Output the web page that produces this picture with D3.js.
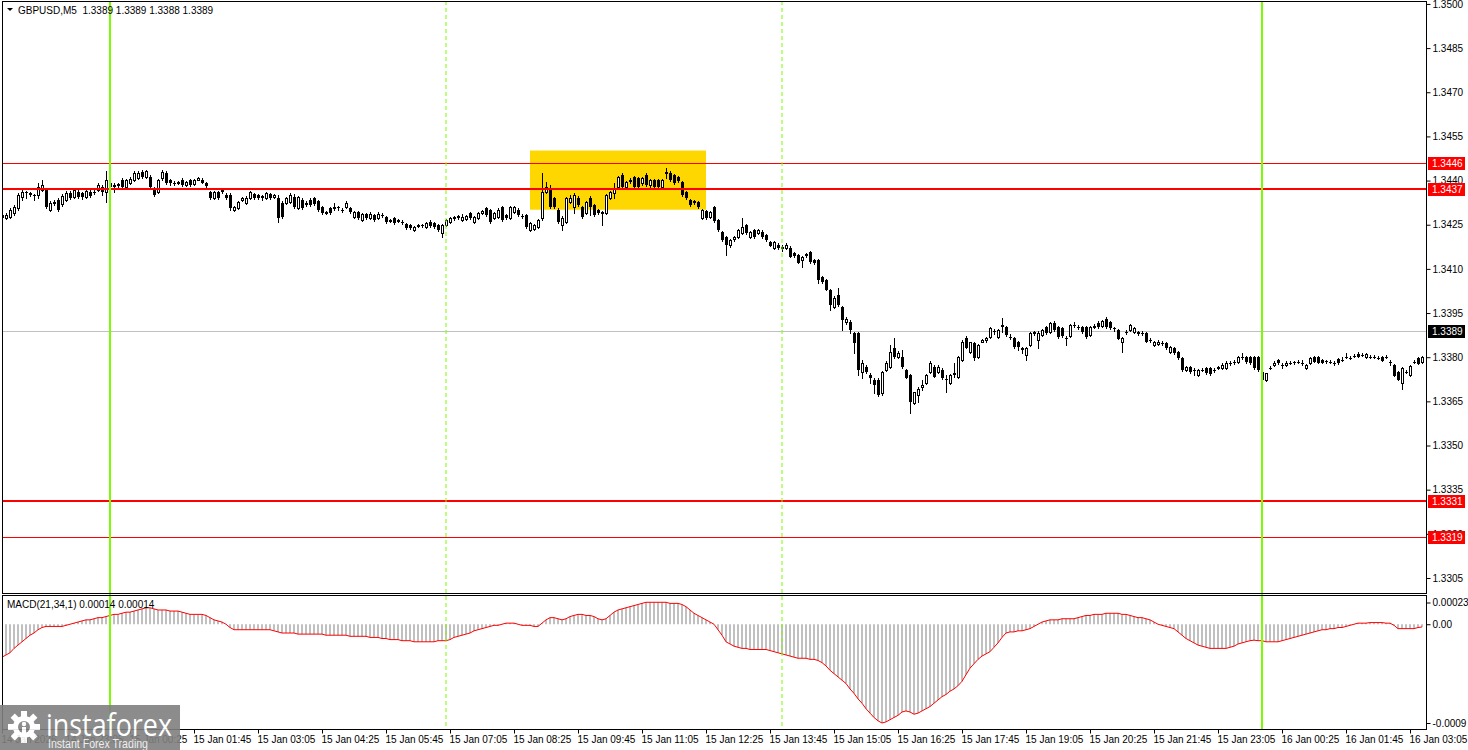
<!DOCTYPE html>
<html>
<head>
<meta charset="utf-8">
<script src="https://cdn.jsdelivr.net/npm/d3@7"></script>
<style>
body { margin: 0; background: #fff; }
svg text { font-family: "Liberation Sans", Arial, sans-serif; font-size: 10px; fill: #000; }
</style>
</head>
<body>
<div id="chart-area"></div>
<script>

// GBPUSD M5 bars, 14 Jan 21:45 -> 16 Jan 03:20
var firstBar = "2026-01-14 21:45";

var opens = [
1.34283,1.34272,1.34276,1.34289,1.34306,1.34344,1.34361,1.34357,1.34351,1.34351,
1.34368,1.34368,1.34300,1.34323,1.34334,1.34320,1.34334,1.34357,1.34344,1.34361,
1.34357,1.34344,1.34361,1.34361,1.34368,1.34378,1.34361,1.34391,1.34385,1.34385,
1.34402,1.34378,1.34391,1.34402,1.34408,1.34429,1.34412,1.34412,1.34374,1.34361,
1.34408,1.34425,1.34402,1.34391,1.34391,1.34402,1.34385,1.34402,1.34388,1.34402,
1.34402,1.34391,1.34361,1.34340,1.34361,1.34364,1.34351,1.34351,1.34300,1.34306,
1.34334,1.34323,1.34340,1.34354,1.34351,1.34347,1.34340,1.34354,1.34344,1.34340,
1.34323,1.34323,1.34327,1.34344,1.34306,1.34334,1.34320,1.34334,1.34340,1.34330,
1.34310,1.34289,1.34306,1.34306,1.34310,1.34300,1.34310,1.34306,1.34276,1.34293,
1.34266,1.34286,1.34272,1.34283,1.34272,1.34283,1.34276,1.34262,1.34272,1.34262,
1.34259,1.34252,1.34249,1.34232,1.34245,1.34249,1.34242,1.34259,1.34255,1.34249,
1.34221,1.34249,1.34259,1.34272,1.34276,1.34266,1.34269,1.34289,1.34259,1.34272,
1.34289,1.34306,1.34300,1.34272,1.34276,1.34310,1.34283,1.34272,1.34293,1.34300,
1.34279,1.34283,1.34232,1.34235,1.34242,1.34272,1.34361,1.34368,1.34340,1.34300,
1.34249,1.34259,1.34327,1.34310,1.34340,1.34310,1.34289,1.34340,1.34317,1.34300,
1.34289,1.34289,1.34340,1.34357,1.34378,1.34419,1.34378,1.34398,1.34412,1.34408,
1.34391,1.34419,1.34385,1.34402,1.34402,1.34378,1.34425,1.34425,1.34419,1.34412,
1.34395,1.34361,1.34334,1.34330,1.34327,1.34272,1.34296,1.34276,1.34310,1.34266,
1.34225,1.34208,1.34181,1.34201,1.34208,1.34221,1.34249,1.34208,1.34232,1.34221,
1.34225,1.34215,1.34191,1.34170,1.34181,1.34170,1.34170,1.34170,1.34153,1.34147,
1.34130,1.34147,1.34157,1.34130,1.34130,1.34072,1.34062,1.34028,1.33970,1.34011,
1.33970,1.33919,1.33919,1.33881,1.33881,1.33749,1.33766,1.33739,1.33722,1.33722,
1.33677,1.33756,1.33766,1.33830,1.33800,1.33800,1.33756,1.33739,1.33643,1.33671,
1.33698,1.33711,1.33749,1.33766,1.33749,1.33756,1.33725,1.33711,1.33742,1.33732,
1.33790,1.33864,1.33817,1.33847,1.33800,1.33851,1.33858,1.33868,1.33888,1.33868,
1.33905,1.33902,1.33868,1.33864,1.33851,1.33830,1.33807,1.33841,1.33881,1.33858,
1.33875,1.33902,1.33885,1.33915,1.33902,1.33898,1.33864,1.33871,1.33909,1.33902,
1.33902,1.33902,1.33875,1.33902,1.33915,1.33905,1.33930,1.33919,1.33898,1.33892,
1.33851,1.33885,1.33892,1.33885,1.33881,1.33881,1.33881,1.33858,1.33841,1.33844,
1.33847,1.33847,1.33817,1.33830,1.33817,1.33796,1.33756,1.33766,1.33756,1.33739,
1.33756,1.33762,1.33762,1.33756,1.33762,1.33762,1.33762,1.33779,1.33783,1.33783,
1.33800,1.33800,1.33800,1.33800,1.33800,1.33749,1.33722,1.33762,1.33773,1.33790,
1.33773,1.33773,1.33779,1.33783,1.33783,1.33779,1.33762,1.33779,1.33800,1.33800,
1.33790,1.33786,1.33783,1.33779,1.33793,1.33790,1.33800,1.33796,1.33803,1.33810,
1.33807,1.33800,1.33800,1.33800,1.33796,1.33800,1.33800,1.33783,1.33773,1.33749,
1.33711,1.33749,1.33739,1.33783,1.33796,1.33783
];

var highs = [
1.34289,1.34289,1.34306,1.34317,1.34357,1.34368,1.34364,1.34361,1.34354,1.34391,
1.34402,1.34374,1.34330,1.34334,1.34340,1.34354,1.34364,1.34364,1.34374,1.34368,
1.34361,1.34368,1.34368,1.34368,1.34391,1.34385,1.34432,1.34398,1.34391,1.34391,
1.34408,1.34405,1.34412,1.34432,1.34432,1.34436,1.34436,1.34419,1.34378,1.34405,
1.34436,1.34432,1.34405,1.34398,1.34398,1.34408,1.34398,1.34405,1.34405,1.34412,
1.34408,1.34395,1.34364,1.34364,1.34364,1.34374,1.34357,1.34357,1.34313,1.34330,
1.34344,1.34347,1.34364,1.34357,1.34354,1.34351,1.34361,1.34357,1.34354,1.34351,
1.34330,1.34344,1.34357,1.34354,1.34347,1.34340,1.34330,1.34340,1.34344,1.34334,
1.34313,1.34296,1.34310,1.34323,1.34313,1.34306,1.34330,1.34310,1.34296,1.34296,
1.34289,1.34289,1.34293,1.34286,1.34293,1.34289,1.34279,1.34269,1.34276,1.34269,
1.34266,1.34255,1.34252,1.34245,1.34252,1.34252,1.34259,1.34266,1.34259,1.34252,
1.34252,1.34269,1.34276,1.34279,1.34283,1.34286,1.34283,1.34293,1.34279,1.34293,
1.34300,1.34310,1.34303,1.34293,1.34306,1.34313,1.34286,1.34313,1.34313,1.34306,
1.34286,1.34286,1.34259,1.34252,1.34269,1.34425,1.34395,1.34385,1.34344,1.34306,
1.34279,1.34344,1.34351,1.34357,1.34347,1.34313,1.34330,1.34347,1.34320,1.34303,
1.34296,1.34354,1.34364,1.34391,1.34415,1.34425,1.34398,1.34408,1.34415,1.34412,
1.34412,1.34425,1.34405,1.34405,1.34405,1.34405,1.34442,1.34432,1.34422,1.34415,
1.34398,1.34364,1.34337,1.34334,1.34330,1.34303,1.34300,1.34296,1.34313,1.34269,
1.34228,1.34211,1.34201,1.34211,1.34235,1.34272,1.34252,1.34228,1.34235,1.34235,
1.34232,1.34218,1.34195,1.34195,1.34187,1.34181,1.34187,1.34177,1.34157,1.34150,
1.34143,1.34153,1.34160,1.34133,1.34133,1.34075,1.34065,1.34031,1.34007,1.34034,
1.33974,1.33936,1.33926,1.33885,1.33885,1.33790,1.33773,1.33745,1.33728,1.33728,
1.33752,1.33786,1.33841,1.33864,1.33820,1.33824,1.33759,1.33742,1.33681,1.33698,
1.33722,1.33742,1.33786,1.33773,1.33773,1.33762,1.33739,1.33742,1.33779,1.33803,
1.33858,1.33871,1.33851,1.33851,1.33844,1.33861,1.33868,1.33902,1.33895,1.33895,
1.33933,1.33905,1.33878,1.33868,1.33854,1.33834,1.33834,1.33885,1.33888,1.33888,
1.33895,1.33905,1.33919,1.33922,1.33905,1.33902,1.33871,1.33912,1.33919,1.33909,
1.33905,1.33905,1.33905,1.33912,1.33922,1.33926,1.33936,1.33922,1.33902,1.33895,
1.33868,1.33892,1.33912,1.33902,1.33888,1.33888,1.33885,1.33864,1.33855,1.33858,
1.33855,1.33851,1.33837,1.33834,1.33820,1.33800,1.33769,1.33769,1.33762,1.33759,
1.33762,1.33766,1.33766,1.33762,1.33769,1.33779,1.33786,1.33786,1.33790,1.33803,
1.33813,1.33803,1.33803,1.33803,1.33803,1.33752,1.33745,1.33769,1.33786,1.33793,
1.33779,1.33786,1.33786,1.33786,1.33790,1.33790,1.33776,1.33800,1.33803,1.33803,
1.33793,1.33790,1.33790,1.33786,1.33796,1.33800,1.33813,1.33803,1.33810,1.33817,
1.33813,1.33813,1.33807,1.33807,1.33803,1.33803,1.33807,1.33790,1.33776,1.33752,
1.33766,1.33756,1.33773,1.33790,1.33800,1.33803
];

var lows = [
1.34266,1.34269,1.34272,1.34283,1.34300,1.34334,1.34340,1.34347,1.34334,1.34340,
1.34364,1.34306,1.34296,1.34317,1.34296,1.34313,1.34330,1.34337,1.34340,1.34340,
1.34337,1.34340,1.34344,1.34354,1.34364,1.34351,1.34327,1.34334,1.34361,1.34378,
1.34374,1.34374,1.34388,1.34398,1.34405,1.34408,1.34408,1.34374,1.34347,1.34357,
1.34402,1.34388,1.34385,1.34385,1.34388,1.34381,1.34381,1.34381,1.34385,1.34402,
1.34391,1.34374,1.34337,1.34337,1.34337,1.34357,1.34337,1.34300,1.34296,1.34303,
1.34330,1.34320,1.34337,1.34337,1.34337,1.34334,1.34337,1.34337,1.34340,1.34259,
1.34272,1.34320,1.34323,1.34306,1.34303,1.34303,1.34313,1.34313,1.34317,1.34296,
1.34286,1.34286,1.34286,1.34300,1.34300,1.34293,1.34306,1.34289,1.34272,1.34269,
1.34262,1.34269,1.34269,1.34262,1.34269,1.34276,1.34255,1.34259,1.34252,1.34259,
1.34252,1.34235,1.34235,1.34228,1.34242,1.34242,1.34238,1.34242,1.34238,1.34228,
1.34208,1.34245,1.34255,1.34266,1.34269,1.34262,1.34266,1.34269,1.34255,1.34269,
1.34286,1.34279,1.34255,1.34269,1.34272,1.34262,1.34269,1.34269,1.34289,1.34279,
1.34272,1.34238,1.34228,1.34232,1.34238,1.34266,1.34357,1.34306,1.34306,1.34255,
1.34232,1.34255,1.34323,1.34289,1.34313,1.34272,1.34286,1.34283,1.34279,1.34286,
1.34249,1.34286,1.34337,1.34340,1.34374,1.34374,1.34374,1.34391,1.34374,1.34374,
1.34385,1.34381,1.34374,1.34374,1.34374,1.34374,1.34408,1.34398,1.34388,1.34395,
1.34347,1.34337,1.34313,1.34320,1.34306,1.34269,1.34269,1.34272,1.34259,1.34228,
1.34195,1.34147,1.34174,1.34195,1.34204,1.34218,1.34218,1.34204,1.34204,1.34218,
1.34204,1.34195,1.34177,1.34167,1.34167,1.34160,1.34167,1.34140,1.34140,1.34119,
1.34106,1.34140,1.34119,1.34116,1.34052,1.34052,1.34028,1.33960,1.33967,1.33974,
1.33892,1.33912,1.33881,1.33813,1.33739,1.33728,1.33745,1.33711,1.33677,1.33667,
1.33671,1.33752,1.33762,1.33796,1.33796,1.33762,1.33728,1.33609,1.33640,1.33647,
1.33688,1.33708,1.33745,1.33732,1.33745,1.33725,1.33681,1.33708,1.33732,1.33728,
1.33786,1.33830,1.33813,1.33790,1.33796,1.33851,1.33851,1.33864,1.33878,1.33864,
1.33885,1.33871,1.33861,1.33830,1.33824,1.33813,1.33790,1.33837,1.33875,1.33830,
1.33871,1.33878,1.33881,1.33888,1.33864,1.33868,1.33841,1.33868,1.33902,1.33895,
1.33881,1.33864,1.33871,1.33898,1.33898,1.33902,1.33898,1.33895,1.33888,1.33861,
1.33817,1.33878,1.33888,1.33881,1.33875,1.33875,1.33851,1.33851,1.33837,1.33841,
1.33841,1.33827,1.33813,1.33810,1.33793,1.33752,1.33752,1.33745,1.33739,1.33735,
1.33752,1.33742,1.33739,1.33749,1.33759,1.33759,1.33759,1.33773,1.33776,1.33779,
1.33793,1.33779,1.33776,1.33759,1.33752,1.33722,1.33718,1.33759,1.33769,1.33776,
1.33762,1.33769,1.33776,1.33776,1.33779,1.33773,1.33759,1.33776,1.33783,1.33779,
1.33779,1.33779,1.33779,1.33773,1.33776,1.33786,1.33796,1.33793,1.33800,1.33800,
1.33803,1.33796,1.33796,1.33796,1.33793,1.33786,1.33796,1.33773,1.33735,1.33722,
1.33691,1.33745,1.33735,1.33779,1.33776,1.33779
];

var closes = [
1.34272,1.34283,1.34300,1.34310,1.34351,1.34361,1.34357,1.34351,1.34347,1.34378,
1.34385,1.34310,1.34323,1.34327,1.34300,1.34347,1.34357,1.34340,1.34368,1.34344,
1.34344,1.34364,1.34347,1.34361,1.34385,1.34361,1.34402,1.34378,1.34378,1.34388,
1.34378,1.34402,1.34405,1.34425,1.34425,1.34412,1.34432,1.34378,1.34351,1.34402,
1.34429,1.34391,1.34391,1.34391,1.34395,1.34385,1.34395,1.34385,1.34402,1.34408,
1.34391,1.34381,1.34340,1.34361,1.34340,1.34368,1.34340,1.34306,1.34310,1.34327,
1.34340,1.34340,1.34361,1.34340,1.34340,1.34340,1.34357,1.34340,1.34351,1.34272,
1.34276,1.34340,1.34351,1.34310,1.34344,1.34306,1.34323,1.34317,1.34320,1.34300,
1.34289,1.34293,1.34289,1.34310,1.34306,1.34300,1.34323,1.34293,1.34293,1.34272,
1.34286,1.34272,1.34286,1.34266,1.34286,1.34283,1.34259,1.34266,1.34255,1.34266,
1.34259,1.34238,1.34238,1.34242,1.34249,1.34245,1.34255,1.34245,1.34242,1.34232,
1.34249,1.34266,1.34272,1.34276,1.34279,1.34276,1.34279,1.34272,1.34276,1.34289,
1.34296,1.34283,1.34259,1.34289,1.34300,1.34266,1.34272,1.34310,1.34310,1.34283,
1.34276,1.34242,1.34255,1.34249,1.34266,1.34361,1.34378,1.34310,1.34310,1.34259,
1.34272,1.34340,1.34340,1.34351,1.34317,1.34276,1.34327,1.34310,1.34283,1.34289,
1.34293,1.34351,1.34361,1.34374,1.34412,1.34378,1.34395,1.34402,1.34378,1.34378,
1.34408,1.34385,1.34402,1.34378,1.34378,1.34402,1.34429,1.34402,1.34391,1.34398,
1.34351,1.34340,1.34317,1.34323,1.34310,1.34300,1.34272,1.34293,1.34262,1.34232,
1.34198,1.34181,1.34198,1.34208,1.34232,1.34242,1.34221,1.34225,1.34208,1.34232,
1.34208,1.34198,1.34177,1.34191,1.34170,1.34174,1.34181,1.34140,1.34143,1.34119,
1.34140,1.34150,1.34123,1.34119,1.34062,1.34055,1.34028,1.33977,1.34000,1.33977,
1.33926,1.33930,1.33892,1.33847,1.33756,1.33779,1.33749,1.33728,1.33705,1.33671,
1.33749,1.33779,1.33817,1.33800,1.33813,1.33766,1.33728,1.33647,1.33681,1.33691,
1.33705,1.33739,1.33779,1.33732,1.33766,1.33728,1.33722,1.33739,1.33745,1.33800,
1.33851,1.33830,1.33851,1.33796,1.33841,1.33858,1.33864,1.33898,1.33885,1.33892,
1.33909,1.33875,1.33868,1.33834,1.33834,1.33824,1.33830,1.33881,1.33885,1.33881,
1.33892,1.33881,1.33915,1.33892,1.33868,1.33871,1.33864,1.33909,1.33909,1.33902,
1.33885,1.33868,1.33902,1.33905,1.33902,1.33922,1.33902,1.33898,1.33895,1.33861,
1.33864,1.33885,1.33909,1.33898,1.33885,1.33881,1.33851,1.33858,1.33851,1.33851,
1.33847,1.33830,1.33834,1.33813,1.33796,1.33756,1.33766,1.33749,1.33756,1.33756,
1.33756,1.33745,1.33742,1.33756,1.33766,1.33773,1.33779,1.33779,1.33783,1.33800,
1.33800,1.33783,1.33779,1.33762,1.33756,1.33722,1.33745,1.33762,1.33779,1.33779,
1.33773,1.33779,1.33779,1.33779,1.33783,1.33776,1.33773,1.33796,1.33783,1.33779,
1.33779,1.33786,1.33783,1.33779,1.33779,1.33790,1.33800,1.33796,1.33803,1.33800,
1.33807,1.33810,1.33800,1.33800,1.33796,1.33786,1.33800,1.33783,1.33735,1.33722,
1.33762,1.33749,1.33769,1.33783,1.33776,1.33800
];

// MACD(21,34,1) main values per bar (signal line is the same with period 1)
var macd = [
-0.00030,-0.00028,-0.00026,-0.00022,-0.00019,-0.00016,-0.00013,-0.00010,-0.00008,-0.00005,
-0.00003,-0.00002,-0.00002,-0.00002,-0.00002,-0.00002,-0.00001,0.00000,0.00001,0.00002,
0.00003,0.00004,0.00004,0.00005,0.00006,0.00006,0.00007,0.00008,0.00009,0.00009,
0.00010,0.00011,0.00011,0.00012,0.00013,0.00014,0.00015,0.00015,0.00014,0.00013,
0.00013,0.00013,0.00012,0.00012,0.00012,0.00011,0.00010,0.00009,0.00009,0.00009,
0.00009,0.00008,0.00006,0.00004,0.00003,0.00002,0.00000,-0.00003,-0.00005,-0.00005,
-0.00005,-0.00005,-0.00005,-0.00005,-0.00005,-0.00005,-0.00005,-0.00005,-0.00006,-0.00007,
-0.00008,-0.00008,-0.00008,-0.00008,-0.00009,-0.00009,-0.00009,-0.00009,-0.00009,-0.00009,
-0.00009,-0.00010,-0.00010,-0.00010,-0.00010,-0.00010,-0.00010,-0.00011,-0.00011,-0.00011,
-0.00011,-0.00011,-0.00012,-0.00012,-0.00012,-0.00013,-0.00013,-0.00014,-0.00014,-0.00014,
-0.00015,-0.00015,-0.00015,-0.00016,-0.00016,-0.00016,-0.00016,-0.00016,-0.00016,-0.00015,
-0.00015,-0.00015,-0.00014,-0.00012,-0.00011,-0.00010,-0.00009,-0.00008,-0.00006,-0.00005,
-0.00004,-0.00003,-0.00002,-0.00001,-0.00001,0.00000,0.00001,0.00001,0.00001,0.00000,
-0.00001,-0.00001,-0.00001,-0.00002,-0.00002,0.00001,0.00004,0.00006,0.00006,0.00005,
0.00004,0.00005,0.00007,0.00008,0.00009,0.00009,0.00008,0.00008,0.00007,0.00005,
0.00004,0.00005,0.00008,0.00011,0.00013,0.00014,0.00015,0.00016,0.00017,0.00018,
0.00019,0.00020,0.00020,0.00020,0.00020,0.00020,0.00020,0.00019,0.00019,0.00019,
0.00018,0.00016,0.00013,0.00010,0.00008,0.00006,0.00004,0.00002,0.00000,-0.00005,
-0.00010,-0.00016,-0.00018,-0.00020,-0.00021,-0.00022,-0.00022,-0.00023,-0.00023,-0.00023,
-0.00023,-0.00023,-0.00024,-0.00025,-0.00026,-0.00027,-0.00028,-0.00029,-0.00030,-0.00031,
-0.00031,-0.00031,-0.00032,-0.00032,-0.00033,-0.00035,-0.00038,-0.00042,-0.00045,-0.00048,
-0.00051,-0.00054,-0.00059,-0.00063,-0.00068,-0.00072,-0.00077,-0.00081,-0.00085,-0.00088,
-0.00090,-0.00089,-0.00087,-0.00085,-0.00083,-0.00080,-0.00079,-0.00080,-0.00082,-0.00081,
-0.00079,-0.00077,-0.00075,-0.00072,-0.00069,-0.00066,-0.00064,-0.00061,-0.00059,-0.00056,
-0.00052,-0.00046,-0.00040,-0.00036,-0.00032,-0.00029,-0.00027,-0.00025,-0.00021,-0.00017,
-0.00012,-0.00008,-0.00007,-0.00007,-0.00006,-0.00006,-0.00005,-0.00004,-0.00002,0.00000,
0.00002,0.00003,0.00004,0.00004,0.00004,0.00005,0.00005,0.00005,0.00005,0.00006,
0.00007,0.00008,0.00008,0.00009,0.00009,0.00009,0.00010,0.00010,0.00010,0.00010,
0.00009,0.00009,0.00008,0.00007,0.00006,0.00006,0.00005,0.00004,0.00002,0.00000,
-0.00001,-0.00002,-0.00003,-0.00004,-0.00007,-0.00010,-0.00013,-0.00015,-0.00017,-0.00019,
-0.00020,-0.00021,-0.00022,-0.00022,-0.00022,-0.00022,-0.00022,-0.00021,-0.00020,-0.00018,
-0.00017,-0.00016,-0.00015,-0.000145,-0.00015,-0.00015,-0.00016,-0.00016,-0.00016,-0.00016,
-0.00015,-0.00014,-0.00013,-0.00012,-0.00011,-0.00010,-0.00009,-0.00008,-0.00007,-0.00006,
-0.00005,-0.00005,-0.00004,-0.00004,-0.00003,-0.00003,-0.00002,-0.00001,0.00000,0.00001,
0.00001,0.00001,0.000015,0.000015,0.000015,0.000015,0.00001,0.00001,-0.00001,-0.00004,
-0.00004,-0.00004,-0.00004,-0.00004,-0.00003,-0.000025
];

// axis labels
var priceTicks = [1.3305, 1.3320, 1.3335, 1.3350, 1.3365, 1.3380, 1.3395, 1.3410,
                  1.3425, 1.3440, 1.3455, 1.3470, 1.3485, 1.3500];
var macdTicks = [0.00023, 0, -0.0009];
var macdTickLabels = ["0.00023", "0.00", "-0.0009"];
var timeLabels = ["14 Jan 2026", "14 Jan 23:05", "15 Jan 00:25", "15 Jan 01:45", "15 Jan 03:05",
                  "15 Jan 04:25", "15 Jan 05:45", "15 Jan 07:05", "15 Jan 08:25", "15 Jan 09:45",
                  "15 Jan 11:05", "15 Jan 12:25", "15 Jan 13:45", "15 Jan 15:05", "15 Jan 16:25",
                  "15 Jan 17:45", "15 Jan 19:05", "15 Jan 20:25", "15 Jan 21:45", "15 Jan 23:05",
                  "16 Jan 00:25", "16 Jan 01:45", "16 Jan 03:05"];
var timeLabelStarts = ["2026-01-14 21:45", "2026-01-14 23:05"];

// chart objects
var levels = [1.3446, 1.3437, 1.3331, 1.3319];
var bidPrice = 1.3389;
var dayLines = ["2026-01-15 00:00", "2026-01-16 00:00"];
var sessionLines = ["2026-01-15 07:00", "2026-01-15 14:00"];
var zoneTimes = ["2026-01-15 08:45", "2026-01-15 12:25"];
var zonePrices = [1.34301, 1.34502];

var headerText = "GBPUSD,M5  1.3389 1.3389 1.3388 1.3389";
var macdText = "MACD(21,34,1) 0.00014 0.00014";


// layout
var width = 1468, height = 750;
var main = {left: 2, right: 1426, top: 1, bottom: 593};
var sub = {top: 595, bottom: 729};

var parseTime = d3.timeParse("%Y-%m-%d %H:%M");
var t0 = parseTime(firstBar);
var times = closes.map(function(d, i) { return d3.timeMinute.offset(t0, 5 * i); });

var svg = d3.select("#chart-area").append("svg")
    .attr("width", width)
    .attr("height", height);

var x = d3.scaleTime()
    .domain([times[0], times[times.length - 1]])
    .range([2, 1422]);

var y = d3.scaleLinear()
    .domain([1.32999, 1.35010])
    .range([main.bottom, main.top]);

var yM = d3.scaleLinear()
    .domain([-0.0009, 0.00023])
    .range([723, 599]);

// clip paths
var defs = svg.append("defs");
defs.append("clipPath").attr("id", "clip-main").append("rect")
    .attr("x", main.left).attr("y", main.top)
    .attr("width", main.right - main.left).attr("height", main.bottom - main.top);
defs.append("clipPath").attr("id", "clip-sub").append("rect")
    .attr("x", main.left).attr("y", sub.top)
    .attr("width", main.right - main.left).attr("height", sub.bottom - sub.top);

var gMain = svg.append("g").attr("clip-path", "url(#clip-main)");
var gSub = svg.append("g").attr("clip-path", "url(#clip-sub)");

// yellow zone
gMain.append("rect")
    .attr("x", x(parseTime(zoneTimes[0])))
    .attr("y", y(zonePrices[1]))
    .attr("width", x(parseTime(zoneTimes[1])) - x(parseTime(zoneTimes[0])))
    .attr("height", y(zonePrices[0]) - y(zonePrices[1]))
    .attr("fill", "#ffd700");

// bid line
gMain.append("line")
    .attr("x1", main.left).attr("x2", main.right)
    .attr("y1", Math.round(y(bidPrice)) + 0.5).attr("y2", Math.round(y(bidPrice)) + 0.5)
    .attr("stroke", "#c0c0c0");

// vertical lines through both panels
function vline(t, dash, w) {
    var xx = Math.round(x(parseTime(t)));
    svg.append("line")
        .attr("x1", xx).attr("x2", xx)
        .attr("y1", main.top).attr("y2", sub.bottom)
        .attr("stroke", "#7cfc00")
        .attr("stroke-width", w)
        .attr("stroke-dasharray", dash);
}
sessionLines.forEach(function(t) { vline(t, "4,3", 1); });
dayLines.forEach(function(t) { vline(t, null, 2); });

// candles
var bars = gMain.selectAll(".bar")
    .data(closes.map(function(c, i) {
        return {t: times[i], o: opens[i], h: highs[i], l: lows[i], c: c};
    }))
    .enter().append("g")
    .attr("class", "bar")
    .attr("shape-rendering", "crispEdges");

bars.append("line")
    .attr("x1", function(d) { return Math.round(x(d.t)) + 0.5; })
    .attr("x2", function(d) { return Math.round(x(d.t)) + 0.5; })
    .attr("y1", function(d) { return Math.round(y(d.h)); })
    .attr("y2", function(d) { return Math.round(y(d.l)) + 1; })
    .attr("stroke", "#000");

bars.append("rect")
    .attr("x", function(d) { return Math.round(x(d.t)) - (d.c > d.o ? 0.5 : 1); })
    .attr("y", function(d) { return Math.round(y(Math.max(d.o, d.c))) + (d.c > d.o ? 0.5 : 0); })
    .attr("width", function(d) { return d.c > d.o ? 2 : 3; })
    .attr("height", function(d) {
        return Math.max(1, Math.round(y(Math.min(d.o, d.c))) - Math.round(y(Math.max(d.o, d.c))));
    })
    .attr("fill", function(d) { return d.c > d.o ? "#fff" : "#000"; })
    .attr("stroke", function(d) { return d.c > d.o ? "#000" : "none"; });

// red levels drawn over candles
var levelWidths = [1, 2, 2, 1];
levels.forEach(function(p, i) {
    var yy = Math.round(y(p)) + (levelWidths[i] % 2 ? 0.5 : 0);
    gMain.append("line")
        .attr("x1", main.left).attr("x2", main.right)
        .attr("y1", yy).attr("y2", yy)
        .attr("stroke", "#ff0000")
        .attr("stroke-width", levelWidths[i]);
});

// MACD histogram + line
gSub.selectAll(".hist")
    .data(macd)
    .enter().append("rect")
    .attr("class", "hist")
    .attr("x", function(d, i) { return Math.round(x(times[i])) - 1; })
    .attr("y", function(d) { return Math.min(yM(0), yM(d)); })
    .attr("width", 2)
    .attr("height", function(d) { return Math.abs(yM(d) - yM(0)); })
    .attr("fill", "#c0c0c0");

var macdLine = d3.line()
    .x(function(d, i) { return x(times[i]); })
    .y(function(d) { return yM(d); });

gSub.append("path")
    .attr("d", macdLine(macd))
    .attr("fill", "none")
    .attr("stroke", "#ff0000")
    .attr("stroke-width", 1);

// panel frames
svg.append("rect")
    .attr("x", main.left + 0.5).attr("y", main.top + 0.5)
    .attr("width", main.right - main.left).attr("height", main.bottom - main.top)
    .attr("fill", "none").attr("stroke", "#000");
svg.append("rect")
    .attr("x", main.left + 0.5).attr("y", sub.top + 0.5)
    .attr("width", main.right - main.left).attr("height", sub.bottom - sub.top)
    .attr("fill", "none").attr("stroke", "#000");

// price axis
var yAxis = d3.axisRight(y)
    .tickValues(priceTicks)
    .tickFormat(d3.format(".4f"))
    .tickSize(4)
    .tickPadding(2);

var gy = svg.append("g")
    .attr("transform", "translate(" + (main.right + 0.5) + ",0)")
    .call(yAxis);
gy.select(".domain").remove();
gy.selectAll("text").attr("font-size", 10).attr("font-family", "Liberation Sans, Arial, sans-serif");

// MACD axis
var mAxis = d3.axisRight(yM)
    .tickValues(macdTicks)
    .tickFormat(function(d, i) { return macdTickLabels[i]; })
    .tickSize(4)
    .tickPadding(2);
var gm = svg.append("g")
    .attr("transform", "translate(" + (main.right + 0.5) + ",0)")
    .call(mAxis);
gm.select(".domain").remove();
gm.selectAll("text").attr("font-size", 10).attr("font-family", "Liberation Sans, Arial, sans-serif");
gm.selectAll(".tick").filter(function(d) { return d > 0; })
    .attr("transform", "translate(0," + (yM(0.00023) + 4) + ")");

// level tags on the price axis
function priceTag(p, bg) {
    var yy = Math.round(y(p));
    svg.append("rect")
        .attr("x", main.right + 2).attr("y", yy - 6)
        .attr("width", 37).attr("height", 13)
        .attr("fill", bg);
    svg.append("text")
        .attr("x", main.right + 6).attr("y", yy + 4)
        .attr("font-size", 10)
        .style("fill", "#fff")
        .text(d3.format(".4f")(p));
}
levels.forEach(function(p) { priceTag(p, "#ff0000"); });
priceTag(bidPrice, "#000");

// time axis
var tickTimes = timeLabels.map(function(d, i) {
    return d3.timeMinute.offset(parseTime(timeLabelStarts[0]), 80 * i);
});
var xAxis = d3.axisBottom(x)
    .tickValues(tickTimes)
    .tickFormat(function(d, i) { return timeLabels[i]; })
    .tickSize(4);
var gx = svg.append("g")
    .attr("transform", "translate(0," + (sub.bottom + 0.5) + ")")
    .call(xAxis);
gx.select(".domain").remove();
gx.selectAll("text")
    .attr("text-anchor", "start")
    .attr("x", -1)
    .attr("dy", "0.71em")
    .attr("y", 6)
    .attr("font-size", 10)
    .attr("font-family", "Liberation Sans, Arial, sans-serif");

// header texts
svg.append("path")
    .attr("d", "M7,8 L13,8 L10,11 Z")
    .attr("fill", "#000");
svg.append("text")
    .attr("x", 18).attr("y", 14)
    .style("white-space", "pre")
    .text(headerText);
svg.append("text")
    .attr("x", 7).attr("y", 608)
    .text(macdText);

// instaforex watermark
var logo = svg.append("g").attr("opacity", 0.9);
logo.append("rect")
    .attr("x", 0).attr("y", 705)
    .attr("width", 180).attr("height", 45)
    .attr("fill", "#808080");
var gear = logo.append("g").attr("transform", "translate(24,727)");
d3.range(8).forEach(function(k) {
    gear.append("rect")
        .attr("x", -3).attr("y", -16)
        .attr("width", 6).attr("height", 7)
        .attr("fill", "#fff")
        .attr("transform", "rotate(" + (k * 45) + ")");
});
gear.append("circle").attr("r", 11).attr("fill", "#fff");
gear.append("circle").attr("r", 6).attr("fill", "#808080");
gear.append("circle").attr("cx", 0).attr("cy", -3).attr("r", 2.2).attr("fill", "#fff");
gear.append("rect").attr("x", -2).attr("y", 0).attr("width", 4).attr("height", 9).attr("fill", "#fff");
logo.append("text")
    .attr("x", 46).attr("y", 736)
    .attr("textLength", 126).attr("lengthAdjust", "spacingAndGlyphs")
    .style("font-family", "Open Sans, sans-serif")
    .style("font-size", "31px")
    .style("fill", "#fff")
    .text("instaforex");
logo.append("text")
    .attr("x", 48).attr("y", 748)
    .attr("textLength", 100).attr("lengthAdjust", "spacingAndGlyphs")
    .style("font-size", "12px")
    .style("fill", "#eee")
    .text("Instant Forex Trading");

</script>
</body>
</html>
